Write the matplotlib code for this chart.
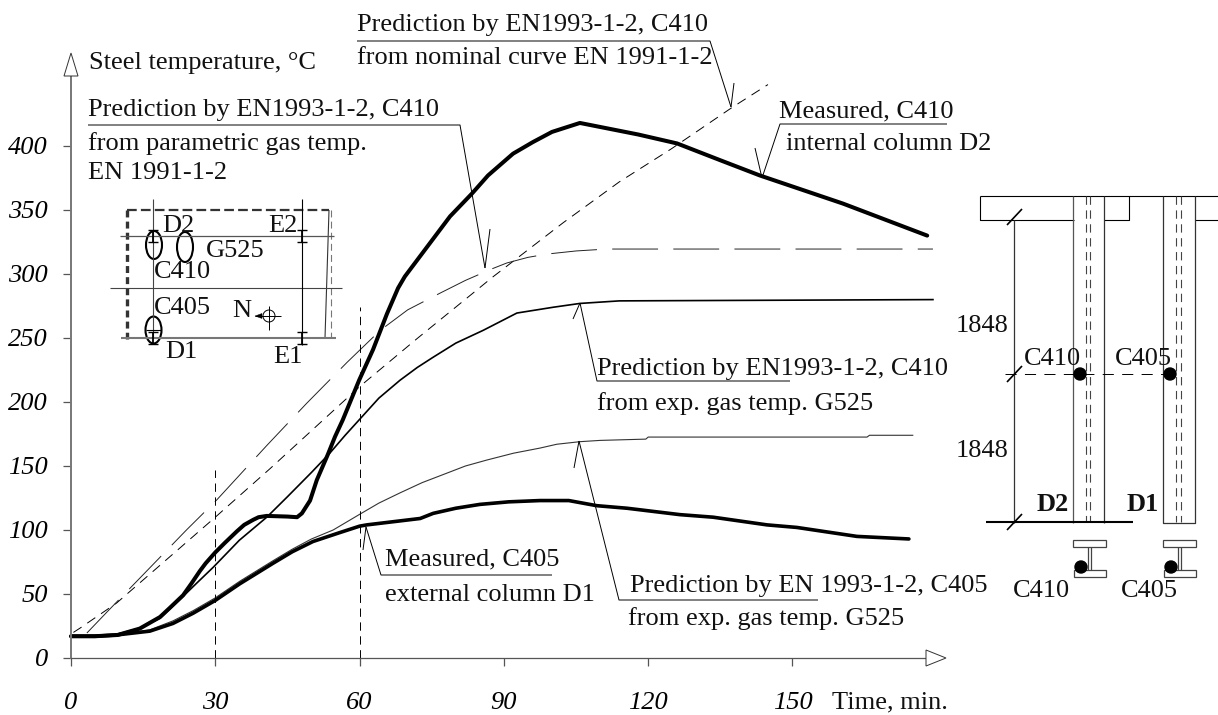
import matplotlib
matplotlib.use('Agg')
import matplotlib.pyplot as plt
from matplotlib.patches import Ellipse, Polygon, Rectangle, Circle

plt.rcParams['font.family'] = ['Liberation Serif', 'DejaVu Serif']
plt.rcParams['lines.scale_dashes'] = False

# curves (time in min, temperature in C)
t_meas_c410 = [0, 5, 9.7, 14.3, 18.5, 20.5, 23.3, 25, 26.8, 28, 30, 32, 34.5, 36, 37.9, 39, 40.7, 45, 47, 48, 49.7, 51.1,
               53.4, 54.9, 56.5, 59.9, 62.8, 65.7, 68, 69.4, 74, 78.8, 83.4, 86.7, 91.9, 96, 100, 105.8, 117.9, 126,
               134.9, 143.2, 160.5, 178]
T_meas_c410 = [17, 17, 18, 23, 32, 39, 49, 58, 68, 74, 82.5, 90, 99, 104, 108, 110, 111, 110.5, 110, 113, 123, 139,
               159, 173, 186, 217, 241, 269, 289, 298, 321, 345, 363, 377, 394, 403, 411, 418, 409, 402,
               389, 377, 355, 330]

t_meas_c405 = [0, 5, 9.5, 16.4, 21.2, 25.4, 30, 35.1, 42, 46, 50.3, 55.9, 60, 61.5, 72.6, 75.3, 80, 85, 91, 97.5, 103.5,
               109.3, 115.6, 126.6, 133.5, 144.7, 150.9, 163.4, 174.2]
T_meas_c405 = [17, 17, 18, 21, 27, 35, 45, 58, 74, 83, 91, 98, 103, 104, 109, 113, 117, 120, 122, 123, 123,
               119, 117, 112, 110, 104, 102, 95, 93]

t_pred_g525 = [0, 9, 14, 18.5, 23, 26, 29.6, 35, 40.7, 45, 50, 53.8, 57, 59.9, 64, 68.4, 72, 75.3, 80, 85.7, 92.7,
               100.2, 105.8, 114, 179.2]
T_pred_g525 = [17, 18, 23, 31, 47, 58, 71, 92, 110, 126, 145, 160, 174, 186, 203, 217, 227, 235, 246, 256, 269.5,
               274, 277, 279, 280]

t_pred_param = [3.3, 7.5, 24, 30.3, 40.7, 49, 57.4, 64.3, 70, 76.7, 82, 87.5, 90.6, 95, 99, 105, 111.4, 179.2]
T_pred_param = [19.5, 36, 100, 123.5, 166, 199, 231, 256, 272, 285, 295, 304, 308.6, 313, 315.6, 318, 319.5, 319.5]

t_pred_nominal = [0.5, 1.9, 9.5, 30, 41.4, 60, 72.1, 87.8, 102.3, 114, 124.9, 137.4, 144.9]
T_pred_nominal = [20, 23.4, 43, 110, 148, 212, 250, 298, 340, 372, 398, 430, 448]

t_pred_c405 = [0, 5, 9.5, 16.4, 21.2, 25.4, 30, 35.1, 42, 46, 50, 54.5, 59.9, 64, 68.4, 73, 78.2, 82, 86.5, 92, 97.5,
               101, 105.8, 110, 119.5, 120, 165.5, 166, 175]
T_pred_c405 = [17, 17, 18, 22, 29, 37, 47, 60, 76, 85, 93, 100, 112, 121, 129, 137, 144.5, 150, 154.7, 160, 164,
               167, 169, 170, 171, 172.6, 172.6, 174, 174]

guide_times = [30, 60]
guide_tops = [147, 274]

x_ticks = [0, 30, 60, 90, 120, 150]
y_ticks = [0, 50, 100, 150, 200, 250, 300, 350, 400]

W, H = 1218, 715
FS = 19
fig = plt.figure(figsize=(W / 100, H / 100), dpi=100)

# main axes, placed so that 1 min = 4.81 px and 1 C = 1.28 px
x0, x1, y0, y1 = 71, 946, 658, 53
ax = fig.add_axes([x0 / W, 1 - y0 / H, (x1 - x0) / W, (y0 - y1) / H])
ax.set_xlim(0, (x1 - x0) / 4.81)
ax.set_ylim(0, (y0 - y1) / 1.28)
ax.patch.set_alpha(0)
for s in ['top', 'right']:
    ax.spines[s].set_visible(False)
ax.spines['left'].set_bounds(0, 455)
ax.spines['bottom'].set_bounds(0, 177.5)
ax.spines['left'].set_color('#777777')
ax.spines['left'].set_linewidth(1.4)
ax.spines['bottom'].set_color('#555555')
ax.spines['bottom'].set_linewidth(0.9)

ax.plot(t_pred_nominal, T_pred_nominal, color='k', lw=0.7, ls=(0, (7, 5)), clip_on=False)
ax.plot(t_pred_param, T_pred_param, color='#222222', lw=0.7, ls=(0, (33, 11)), clip_on=False)
ax.plot(t_pred_c405, T_pred_c405, color='#333333', lw=0.8, clip_on=False)
ax.plot(t_pred_g525, T_pred_g525, color='k', lw=1.2, clip_on=False)
ax.plot(t_meas_c405, T_meas_c405, color='k', lw=2.6, solid_capstyle='round', clip_on=False)
ax.plot(t_meas_c410, T_meas_c410, color='k', lw=2.9, solid_capstyle='round', clip_on=False)
for t, top in zip(guide_times, guide_tops):
    ax.plot([t, t], [0, top], color='k', lw=0.7, ls=(0, (6, 4)))

ax.set_xticks(x_ticks)
ax.set_yticks(y_ticks)
ax.tick_params(axis='x', length=6, width=0.9, color='#555555', pad=18.5, labelsize=FS)
ax.tick_params(axis='y', length=6, width=0.9, color='#555555', pad=10.5, labelsize=FS)
for lab in ax.get_xticklabels() + ax.get_yticklabels():
    lab.set_fontstyle('italic')

# overlay in pixel coordinates for callouts and the sketches
ov = fig.add_axes([0, 0, 1, 1])
ov.set_xlim(0, W)
ov.set_ylim(H, 0)
ov.axis('off')


def line(xs, ys, lw=0.7, color='k', **kw):
    ov.plot(xs, ys, color=color, lw=lw, solid_capstyle='butt', **kw)


def label(x, y, s, **kw):
    ov.text(x, y, s, fontsize=FS, va='baseline', ha='left', color='#111111', **kw)


# axis arrow heads
ov.add_patch(Polygon([(71, 53), (64, 76), (78, 76)], closed=True, fc='w', ec='#333333', lw=0.7))
ov.add_patch(Polygon([(946, 658), (926, 650), (926, 666)], closed=True, fc='w', ec='#333333', lw=0.7))

label(89, 69, 'Steel temperature, °C')
label(832, 708, 'Time, min.')

# callouts
label(357, 31, 'Prediction by EN1993-1-2, C410')
label(357, 64, 'from nominal curve EN 1991-1-2')
line([357, 710, 731], [41, 41, 107])
line([734, 731], [83, 107])

label(88, 116, 'Prediction by EN1993-1-2, C410')
label(88, 150, 'from parametric gas temp.')
label(88, 179, 'EN 1991-1-2')
line([88, 460, 485], [125, 125, 268])
line([490, 485], [229, 268])

label(779, 117, 'Measured, C410')
label(786, 150, 'internal column D2')
line([947, 780, 762], [124, 124, 178])
line([755, 762], [148, 178])

label(597, 375, 'Prediction by EN1993-1-2, C410')
label(597, 410, 'from exp. gas temp. G525')
line([790, 597, 580], [381, 381, 303])
line([573, 580], [319, 303])

label(630, 592, 'Prediction by EN 1993-1-2, C405')
label(628, 625, 'from exp. gas temp. G525')
line([818, 619, 579], [600, 600, 441])
line([574, 579], [468, 441])

label(385, 565, 'Measured, C405')
label(385, 601, 'external column D1')
line([552, 381, 366], [575, 575, 527])
line([363, 366], [550, 527])

# floor plan sketch
line([127, 127], [210, 339], lw=2.4, color='#333333', ls=(0, (5, 3)))
line([127, 329], [210, 210], lw=1.6, color='#333333', ls=(0, (7, 3)))
line([329, 325], [210, 338], lw=0.8, color='#333333')
line([331, 331], [210, 338], lw=0.8, color='#777777', ls=(0, (5, 3)))
line([120, 334], [236, 236], lw=0.9, color='#555555')
line([121, 336], [338, 338], lw=1.5, color='#777777')
line([110, 342], [288, 288], lw=0.8, color='#444444')
line([153, 153], [199, 338], lw=0.8, color='#444444')
line([302, 302], [199, 345], lw=0.8, color='k')
for cx, cy in [(153, 236), (302, 236), (153, 338), (302, 338)]:
    line([cx - 5, cx + 5], [cy - 6, cy - 6], lw=1)
    line([cx - 5, cx + 5], [cy + 6, cy + 6], lw=1)
    line([cx, cx], [cy - 6, cy + 6], lw=1.3)
for cx, cy, w, h in [(154, 245, 16, 28), (185, 247, 16, 30), (153.5, 330, 16, 27)]:
    ov.add_patch(Ellipse((cx, cy), w, h, fill=False, ec='k', lw=1.5))
line([146, 161], [330, 330], lw=0.8)
ov.add_patch(Circle((269, 316), 6, fill=False, ec='k', lw=0.7))
line([269, 269], [306, 330], lw=0.7)
line([255, 281], [316, 316], lw=0.7)
ov.add_patch(Polygon([(255, 316), (262, 313.5), (262, 318.5)], closed=True, fc='k', ec='k', lw=0.3))
label(162, 232, 'D2')
label(268, 232, 'E2')
label(206, 257, 'G525')
label(154, 278, 'C410')
label(154, 314, 'C405')
label(232, 317, 'N')
label(165, 358, 'D1')
label(273, 363, 'E1')

# frame elevation sketch
line([980, 1218], [196, 196], lw=0.8)
line([980, 980, 1074], [196, 220, 220], lw=0.8)
line([1104, 1129, 1129], [220, 220, 196], lw=0.8)
line([1195, 1218], [220, 220], lw=0.8)
line([1073, 1073], [196, 523], lw=0.9, color='#555555')
line([1104, 1104], [196, 523], lw=0.9, color='#333333')
line([1163, 1163, 1195, 1195], [196, 523, 523, 196], lw=0.9, color='#333333')
for x in [1086, 1090, 1176, 1181]:
    line([x, x], [196, 522], lw=0.8, color='#444444', ls=(0, (6, 4)))
line([1014, 1014], [220, 523], lw=0.9, color='#333333')
line([986, 1133], [522, 522], lw=1.5)
line([1005, 1165], [374, 374], lw=0.7, ls=(0, (8, 6)))
for y in [217, 374, 522]:
    line([1007, 1022], [y + 8, y - 8], lw=1.2)
for cx, cy in [(1080, 374), (1170, 374), (1081, 567), (1171, 567)]:
    ov.add_patch(Circle((cx, cy), 6, fc='k', ec='k', zorder=5))
for xl in [1073, 1163]:
    ov.add_patch(Rectangle((xl, 540), 33, 7, fill=False, ec='#444444', lw=0.9))
    ov.add_patch(Rectangle((xl + 1, 570), 32, 7, fill=False, ec='#444444', lw=0.9))
    line([xl + 15, xl + 15], [547, 570], lw=0.9, color='#444444')
    line([xl + 18, xl + 18], [547, 570], lw=0.9, color='#444444')
label(956, 332, '1848')
label(956, 457, '1848')
label(1024, 365, 'C410')
label(1115, 365, 'C405')
label(1037, 511, 'D2', fontweight='bold')
label(1127, 511, 'D1', fontweight='bold')
label(1013, 597, 'C410')
label(1121, 597, 'C405')

fig.savefig('out.png', dpi=100)
